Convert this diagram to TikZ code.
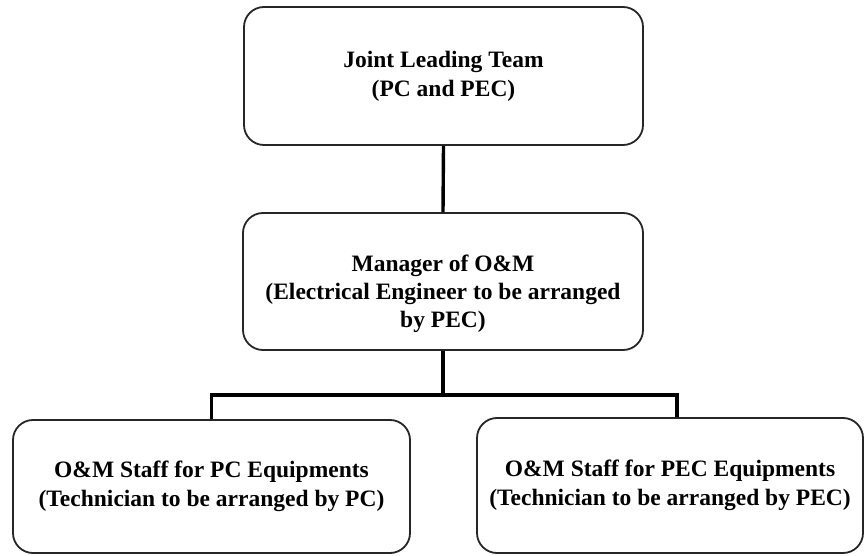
\documentclass[tikz,border=0pt]{standalone}
\usepackage{fontspec}
\setmainfont{Liberation Serif}
\begin{document}
\begin{tikzpicture}[x=1pt,y=1pt,
  orgbox/.style={draw=black!85, line width=1.8pt, rounded corners=20pt,
    inner sep=0pt, align=center,
    font=\bfseries\fontsize{23.5}{29}\selectfont},
  boxtext/.style={inner sep=0pt, align=center,
    font=\bfseries\fontsize{23.5}{28}\selectfont},
  link/.style={draw=black, line width=3.4pt}]
\useasboundingbox (0,0) rectangle (865,-556);

\node[orgbox, minimum width=399pt, minimum height=138pt] (team) at (443.5,-76)
  {Joint Leading Team\\(PC and PEC)};

\node[orgbox, minimum width=400pt, minimum height=137pt,
  label={[boxtext, yshift=-12pt]center:{Manager of O\&M\\(Electrical Engineer to be arranged\\by PEC)}}]
  (mgr) at (443,-281.5) {};

\node[orgbox, minimum width=397pt, minimum height=133pt] (pcstaff) at (211.5,-486.5)
  {O\&M Staff for PC Equipments\\(Technician to be arranged by PC)};

\node[orgbox, minimum width=386pt, minimum height=135pt] (pecstaff) at (670,-485.5)
  {O\&M Staff for PEC Equipments\\(Technician to be arranged by PEC)};

% branching bus below the manager
\coordinate (bus) at (443,-395);

\draw[link] (team.south) -- (mgr.north);
\draw[link] (mgr.south) -- (bus);
\draw[link] (pcstaff.north) |- (bus) -| ([xshift=7pt]pecstaff.north);
\end{tikzpicture}
\end{document}
